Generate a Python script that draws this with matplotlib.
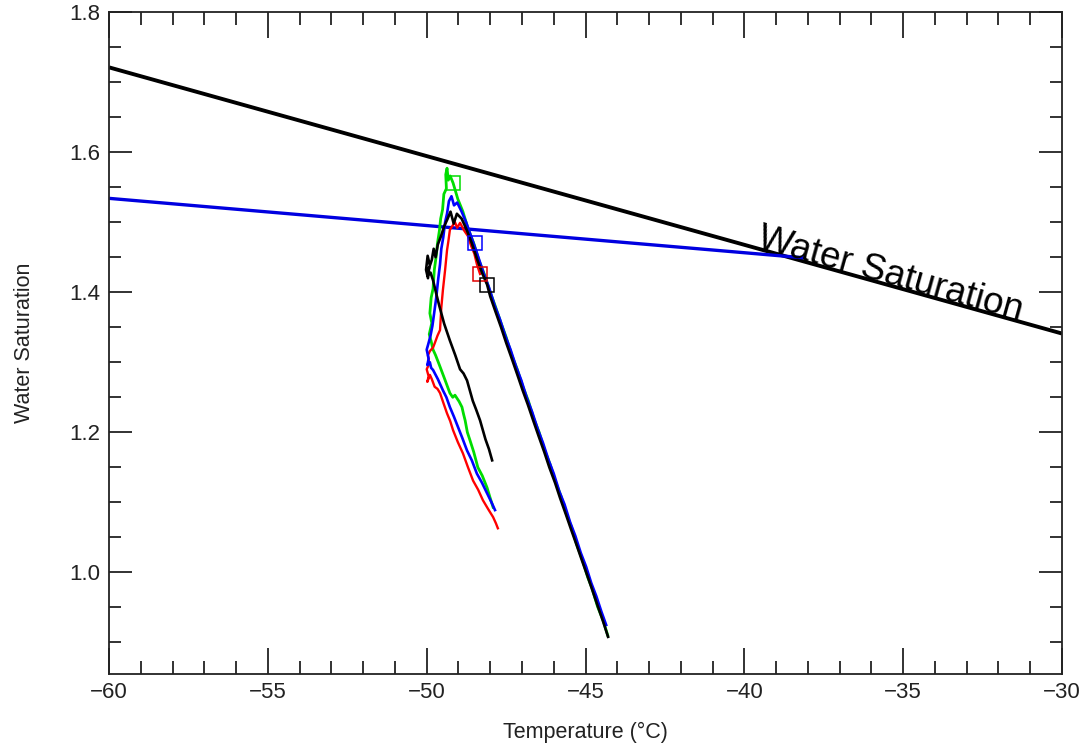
import numpy as np
import matplotlib.pyplot as plt
from matplotlib.ticker import MultipleLocator

plt.rcParams['font.family'] = ['Liberation Sans', 'DejaVu Sans']

# saturation reference lines (temperature in C, saturation ratio)
water_sat_t = [-60.0, -30.0]
water_sat_s = [1.721, 1.341]
ice_line_t = [-60.0, -38.1]
ice_line_s = [1.534, 1.449]

# chamber runs: temperature and saturation along each trace
green_t = [-44.30, -44.45, -44.62, -44.80, -44.93, -45.10, -45.28, -45.45, -45.60,
           -45.78, -45.95, -46.12, -46.30, -46.46, -46.64, -46.80, -46.98, -47.15,
           -47.32, -47.50, -47.66, -47.84, -48.00, -48.18, -48.36, -48.52, -48.70,
           -48.86, -49.02, -49.17, -49.26, -49.32, -49.36, -49.40, -49.38, -49.46,
           -49.50, -49.56, -49.60, -49.66, -49.70, -49.76, -49.80, -49.86, -49.90,
           -49.84, -49.92, -49.86, -49.80, -49.72, -49.60, -49.45, -49.27, -49.18,
           -49.11, -48.98, -48.89, -48.84, -48.79, -48.72, -48.64, -48.52, -48.39,
           -48.25, -48.10, -48.00, -47.91]
green_s = [0.910, 0.932, 0.951, 0.978, 0.993, 1.018, 1.040, 1.066, 1.083, 1.110,
           1.130, 1.155, 1.176, 1.200, 1.221, 1.245, 1.266, 1.290, 1.310, 1.336,
           1.356, 1.380, 1.400, 1.425, 1.446, 1.470, 1.491, 1.515, 1.533, 1.556,
           1.566, 1.560, 1.577, 1.568, 1.548, 1.540, 1.518, 1.505, 1.488, 1.470,
           1.452, 1.432, 1.405, 1.392, 1.370, 1.356, 1.340, 1.330, 1.318, 1.310,
           1.296, 1.278, 1.256, 1.250, 1.253, 1.244, 1.236, 1.226, 1.217, 1.200,
           1.189, 1.172, 1.150, 1.138, 1.121, 1.106, 1.093]

blue_t = [-44.35, -44.50, -44.66, -44.82, -44.98, -45.15, -45.32, -45.48, -45.66,
          -45.82, -46.00, -46.16, -46.34, -46.50, -46.68, -46.84, -47.02, -47.18,
          -47.36, -47.52, -47.70, -47.86, -48.04, -48.20, -48.36, -48.48, -48.62,
          -48.76, -48.90, -49.04, -49.14, -49.22, -49.30, -49.36, -49.42, -49.48,
          -49.54, -49.58, -49.64, -49.70, -49.76, -49.82, -49.88, -49.95, -50.00,
          -49.94, -49.98, -49.90, -49.86, -49.80, -49.65, -49.49, -49.38, -49.27,
          -49.14, -49.01, -48.88, -48.73, -48.58, -48.42, -48.26, -48.10, -47.96,
          -47.85]
blue_s = [0.925, 0.944, 0.966, 0.985, 1.008, 1.028, 1.052, 1.071, 1.097, 1.115,
          1.141, 1.160, 1.185, 1.204, 1.229, 1.248, 1.274, 1.293, 1.318, 1.337,
          1.362, 1.381, 1.407, 1.426, 1.448, 1.464, 1.482, 1.500, 1.515, 1.528,
          1.524, 1.537, 1.530, 1.512, 1.500, 1.478, 1.462, 1.440, 1.418, 1.392,
          1.372, 1.352, 1.338, 1.326, 1.318, 1.305, 1.296, 1.300, 1.292, 1.289,
          1.276, 1.260, 1.250, 1.236, 1.222, 1.207, 1.192, 1.174, 1.160, 1.141,
          1.128, 1.113, 1.100, 1.089]

red_t = [-48.32, -48.42, -48.50, -48.60, -48.70, -48.82, -48.95, -49.04, -49.11,
         -49.20, -49.27, -49.32, -49.36, -49.42, -49.49, -49.54, -49.58, -49.66,
         -49.74, -49.80, -49.90, -49.96, -49.92, -50.00, -49.94, -49.98, -49.90,
         -49.84, -49.75, -49.66, -49.58, -49.46, -49.36, -49.26, -49.17, -49.02,
         -48.86, -48.70, -48.54, -48.38, -48.23, -48.06, -47.91, -47.82, -47.76]
red_s = [1.426, 1.440, 1.455, 1.466, 1.480, 1.488, 1.499, 1.492, 1.500, 1.494,
         1.489, 1.472, 1.460, 1.432, 1.403, 1.378, 1.346, 1.338, 1.328, 1.321,
         1.316, 1.310, 1.298, 1.290, 1.280, 1.272, 1.282, 1.276, 1.265, 1.262,
         1.256, 1.240, 1.227, 1.216, 1.203, 1.186, 1.170, 1.150, 1.131, 1.118,
         1.103, 1.090, 1.079, 1.070, 1.063]

black_t = [-44.29, -44.44, -44.60, -44.78, -44.94, -45.12, -45.28, -45.46, -45.62,
           -45.80, -45.96, -46.14, -46.30, -46.48, -46.64, -46.82, -46.98, -47.16,
           -47.32, -47.50, -47.66, -47.84, -48.00, -48.10, -48.26, -48.42, -48.58,
           -48.75, -48.90, -49.05, -49.15, -49.25, -49.35, -49.45, -49.55, -49.65,
           -49.72, -49.78, -49.84, -49.90, -49.97, -50.02, -49.96, -49.92, -49.98,
           -49.88, -49.80, -49.70, -49.60, -49.45, -49.27, -49.10, -48.95, -48.84,
           -48.73, -48.55, -48.44, -48.32, -48.15, -48.04, -47.94]
black_s = [0.908, 0.929, 0.950, 0.974, 0.995, 1.018, 1.039, 1.062, 1.083, 1.106,
           1.128, 1.150, 1.172, 1.195, 1.216, 1.240, 1.260, 1.284, 1.305, 1.328,
           1.350, 1.373, 1.394, 1.411, 1.428, 1.448, 1.470, 1.490, 1.505, 1.512,
           1.498, 1.515, 1.504, 1.494, 1.480, 1.468, 1.450, 1.462, 1.446, 1.438,
           1.452, 1.432, 1.420, 1.436, 1.424, 1.428, 1.417, 1.398, 1.380, 1.355,
           1.331, 1.310, 1.290, 1.284, 1.274, 1.245, 1.232, 1.217, 1.190, 1.176,
           1.160]

# start point of each run
start_t = [-49.17, -48.48, -48.32, -48.10]
start_s = [1.556, 1.470, 1.426, 1.411]
start_colors = ['#00dd00', '#0000ff', '#e00000', 'black']

fig = plt.figure(figsize=(10.84, 7.56), dpi=100)
ax = fig.add_axes([0.1006, 0.1085, 0.8791, 0.8756])

ax.plot(water_sat_t, water_sat_s, color='black', lw=2.8, solid_capstyle='butt')
ax.plot(ice_line_t, ice_line_s, color='#0000e0', lw=2.4, solid_capstyle='butt')

ax.plot(green_t, green_s, color='#00dd00', lw=2.0)
ax.plot(red_t, red_s, color='#ff0000', lw=1.7)
ax.plot(blue_t, blue_s, color='#0000ff', lw=1.9)
ax.plot(black_t, black_s, color='black', lw=1.9)

for t, s, c in zip(start_t, start_s, start_colors):
    ax.plot(t, s, marker='s', ms=10, mfc='none', mec=c, mew=1.1)

ax.text(-39.62, 1.464, 'Water Saturation', fontsize=26.5, rotation=-15.6,
        rotation_mode='anchor', ha='left', va='baseline')

ax.set_xlim(-60, -30)
ax.set_ylim(0.855, 1.8)
ax.xaxis.set_major_locator(MultipleLocator(5))
ax.xaxis.set_minor_locator(MultipleLocator(1))
ax.yaxis.set_major_locator(MultipleLocator(0.2))
ax.yaxis.set_minor_locator(MultipleLocator(0.05))
ax.yaxis.set_major_formatter(plt.FuncFormatter(lambda v, p: f'{v:.1f}'))

ax.tick_params(axis='both', which='both', direction='in', top=True, right=True,
               colors='#222222', width=1.3, labelsize=16)
ax.tick_params(axis='x', which='major', length=18.5, pad=6)
ax.tick_params(axis='x', which='minor', length=9.2)
ax.tick_params(axis='y', which='major', length=16.5, pad=6)
ax.tick_params(axis='y', which='minor', length=8.5)
for sp in ax.spines.values():
    sp.set_color('#222222')
    sp.set_linewidth(1.3)

ax.set_xlabel('Temperature (°C)', fontsize=15.5, color='#222222')
ax.set_ylabel('Water Saturation', fontsize=15.5, color='#222222')
ax.xaxis.set_label_coords(0.5, -0.088)
ax.yaxis.set_label_coords(-0.089, 0.5)
ax.xaxis.label.set_va('center')
ax.yaxis.label.set_va('center')

fig.savefig('out.png', dpi=100)
